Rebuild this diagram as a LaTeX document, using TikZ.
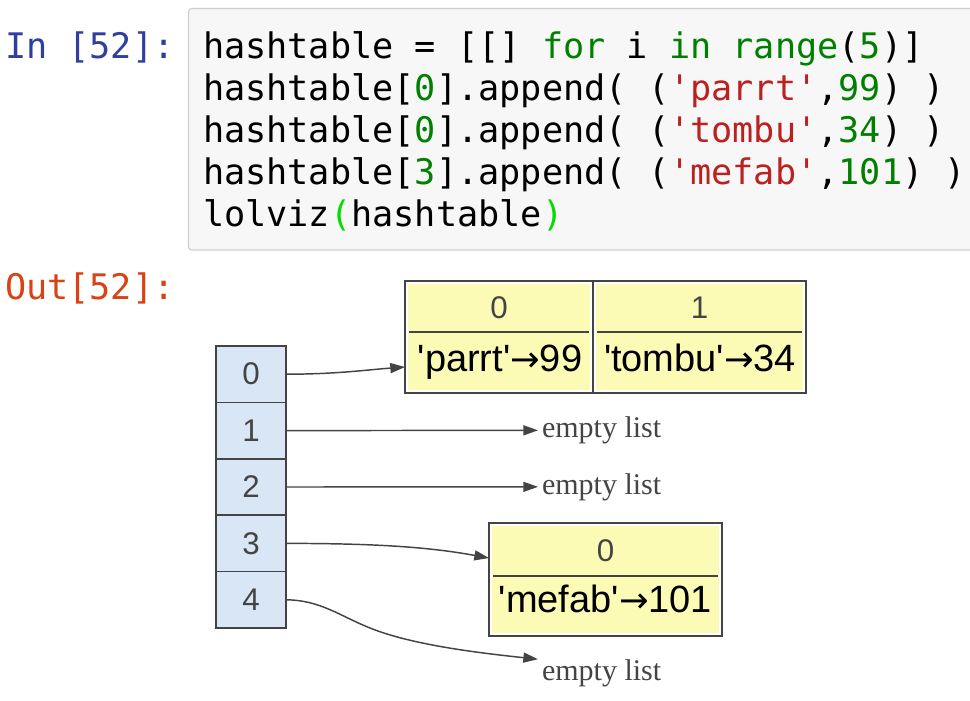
\documentclass[tikz,border=0pt]{standalone}
\usepackage{fontspec}
\setmonofont{DejaVu Sans Mono}
\newfontfamily\lsans{Liberation Sans}
\newfontfamily\lserif{Liberation Serif}
\newfontfamily\djv{DejaVu Sans}
\usetikzlibrary{arrows.meta}
\definecolor{inblue}{HTML}{303F9F}
\definecolor{outred}{HTML}{D84315}
\definecolor{codebg}{HTML}{F7F7F7}
\definecolor{codeborder}{HTML}{CFCFCF}
\definecolor{kw}{HTML}{008000}
\definecolor{str}{HTML}{BA2121}
\definecolor{brk}{HTML}{00DD00}
\definecolor{edge}{HTML}{444444}
\definecolor{cellblue}{HTML}{D9E6F5}
\definecolor{yel}{HTML}{FBFBB5}
\newcommand{\rarr}{{\djv\fontsize{26.5}{30}\selectfont →}}
\tikzset{
  codeline/.style={anchor=base west, inner sep=0, outer sep=0, font={\fontsize{26.4}{31}\selectfont\ttfamily}},
  cell/.style={draw=edge, fill=cellblue, line width=1.1pt, minimum width=52.5pt, minimum height=42.3pt, inner sep=0, outer sep=0, font={\fontsize{23.5}{26}\selectfont\lsans}, text=edge},
  lbox/.style={draw=edge, fill=white, line width=1.1pt, inner sep=0, outer sep=0},
  idx/.style={inner sep=0, font={\fontsize{23.5}{26}\selectfont\lsans}, text=edge},
  val/.style={anchor=base, inner sep=0, font={\fontsize{28.5}{32}\selectfont\lsans}, text=black},
  elist/.style={anchor=base west, inner xsep=3pt, inner ysep=0, outer sep=0, font={\fontsize{22.5}{26}\selectfont\lserif}, text=edge},
  conn/.style={draw=edge, line width=1.1pt, -{Triangle[length=11pt,width=7.5pt]}},
  sep/.style={draw=edge, line width=0.9pt}
}
\begin{document}
\begin{tikzpicture}[x=0.75pt,y=-0.75pt]
\clip (0,0) rectangle (970,700);
\fill[white] (0,0) rectangle (970,700);
% code cell
\draw[fill=codebg, draw=codeborder, line width=0.9pt, rounded corners=2.5pt] (188.5,8.5) rectangle (990,250);
\node[codeline, text=inblue] (inp) at (5,58) {In [52]:};
\node[codeline] (l1) at (203,58) {hashtable = [[] \textcolor{kw}{for} i \textcolor{kw}{in} \textcolor{kw}{range}(\textcolor{kw}{5})]};
\node[codeline] (l2) at (203,100) {hashtable[\textcolor{kw}{0}].append( (\textcolor{str}{'parrt'},\textcolor{kw}{99}) )};
\node[codeline] (l3) at (203,142) {hashtable[\textcolor{kw}{0}].append( (\textcolor{str}{'tombu'},\textcolor{kw}{34}) )};
\node[codeline] (l4) at (203,184) {hashtable[\textcolor{kw}{3}].append( (\textcolor{str}{'mefab'},\textcolor{kw}{101}) )};
\node[codeline] (l5) at (203,226) {lolviz\textcolor{brk}{(}hashtable\textcolor{brk}{)}};
\node[codeline, text=outred] (outp) at (5,299) {Out[52]:};
% array
\node[cell] (c0) at (251,374.2) {0};
\node[cell] (c1) at (251,430.6) {1};
\node[cell] (c2) at (251,487.0) {2};
\node[cell] (c3) at (251,543.4) {3};
\node[cell] (c4) at (251,599.8) {4};
% list at index 0
\node[lbox, minimum width=141pt, minimum height=84pt] (a0) at (499,337) {};
\node[lbox, minimum width=159.75pt, minimum height=84pt] (a1) at (699.5,337) {};
\fill[yel] ([shift={(2.4pt,-2.4pt)}]a0.north west) rectangle ([shift={(-2.4pt,2.4pt)}]a0.south east);
\fill[yel] ([shift={(2.4pt,-2.4pt)}]a1.north west) rectangle ([shift={(-2.4pt,2.4pt)}]a1.south east);
\draw[sep] (409,332) -- (589,332);
\draw[sep] (597,332) -- (802,332);
\node[idx] (a0i) at (499,308) {0};
\node[idx] (a1i) at (699.5,308) {1};
\node[val] (a0v) at (500,371) {'parrt'\rarr99};
\node[val] (a1v) at (700,371) {'tombu'\rarr34};
% list at index 3
\node[lbox, minimum width=174.75pt, minimum height=84.75pt] (m0) at (605.5,579.5) {};
\fill[yel] ([shift={(2.4pt,-2.4pt)}]m0.north west) rectangle ([shift={(-2.4pt,2.4pt)}]m0.south east);
\draw[sep] (493,576) -- (718,576);
\node[idx] (m0i) at (605.5,550.5) {0};
\node[val] (m0v) at (605.5,612.5) {'mefab'\rarr101};
% empty lists
\node[elist] (e1) at (538,437.5) {empty list};
\node[elist] (e2) at (538,494) {empty list};
\node[elist] (e4) at (538,680) {empty list};
% connectors
\draw[conn] (c0.east) .. controls +(50,0) and +(-40,3) .. ([yshift=-22.5pt]a0.west);
\draw[conn] (c1.east) -- (e1.west);
\draw[conn] (c2.east) -- (e2.west);
\draw[conn] (c3.east) .. controls +(90,0) and +(-60,-11) .. ([yshift=16.1pt]m0.west);
\draw[conn] (c4.east) .. controls (320,600) and (340,616) .. (370,628) .. controls (410,644) and (470,652) .. (e4.north west);
\end{tikzpicture}
\end{document}
